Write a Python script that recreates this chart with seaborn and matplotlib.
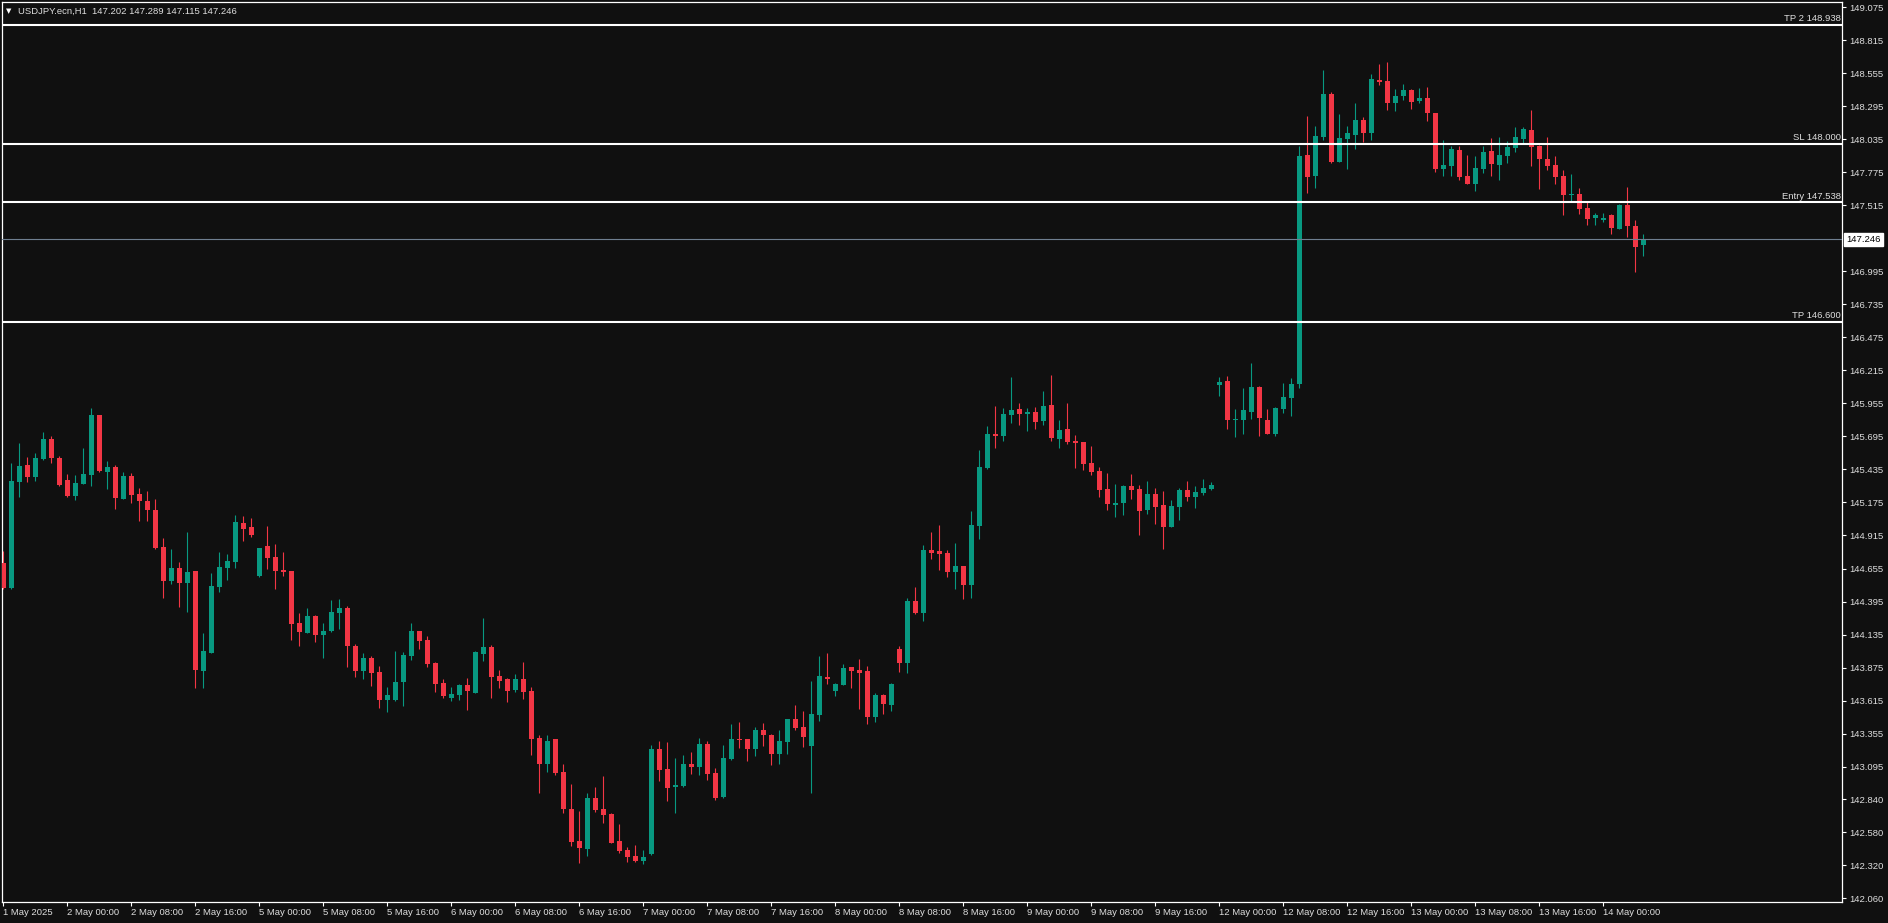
import numpy as np
import pandas as pd
import matplotlib
matplotlib.use('Agg')
import matplotlib.pyplot as plt
import matplotlib.transforms as mtransforms
import seaborn as sns

# chart data (H1 bars)
symbol = 'USDJPY.ecn,H1'

opens = [144.699, 144.504, 145.339, 145.470, 145.376, 145.517, 145.675, 145.525, 145.352, 145.226,
         145.321, 145.391, 145.864, 145.415, 145.454, 145.202, 145.384, 145.242, 145.187, 145.116,
         144.825, 144.557, 144.659, 144.541, 144.636, 143.848, 143.990, 144.510, 144.659, 144.706,
         145.013, 144.982, 144.596, 144.832, 144.746, 144.643, 144.635, 144.226, 144.147, 144.281,
         144.132, 144.163, 144.305, 144.344, 144.045, 143.848, 143.950, 143.840, 143.620, 143.620,
         143.761, 143.966, 144.163, 144.092, 143.911, 143.754, 143.635, 143.659, 143.738, 143.675,
         143.982, 144.037, 143.809, 143.785, 143.698, 143.785, 143.691, 143.320, 143.116, 143.313,
         143.053, 142.761, 142.509, 142.446, 142.848, 142.761, 142.722, 142.509, 142.439, 142.391,
         142.352, 142.407, 143.234, 143.076, 142.935, 142.943, 143.116, 143.092, 143.274, 143.045,
         142.856, 143.156, 143.313, 143.313, 143.234, 143.384, 143.345, 143.195, 143.289, 143.471,
         143.408, 143.258, 143.502, 143.801, 143.691, 143.738, 143.880, 143.856, 143.849, 143.486,
         143.660, 143.581, 144.022, 143.912, 144.400, 144.305, 144.801, 144.793, 144.778, 144.628,
         144.675, 144.526, 144.990, 145.447, 145.715, 145.699, 145.864, 145.911, 145.872, 145.888,
         145.817, 145.943, 145.675, 145.754, 145.659, 145.652, 145.486, 145.423, 145.282, 145.156,
         145.171, 145.305, 145.282, 145.116, 145.242, 145.156, 144.982, 145.140, 145.274, 145.219,
         145.250, 145.282, 146.100, 146.132, 145.825, 145.825, 145.888, 146.085, 145.825, 145.715,
         145.911, 145.998, 146.108, 147.911, 147.746, 148.053, 148.392, 147.856, 148.037, 148.069,
         148.187, 148.085, 148.502, 148.494, 148.321, 148.376, 148.423, 148.337, 148.360, 148.242,
         147.801, 147.825, 147.951, 147.746, 147.683, 147.801, 147.943, 147.833, 147.904, 147.967,
         148.037, 148.108, 147.982, 147.880, 147.833, 147.746, 147.597, 147.604, 147.494, 147.415,
         147.400, 147.439, 147.329, 147.518, 147.352, 147.202]

highs = [144.793, 145.486, 145.643, 145.533, 145.565, 145.730, 145.699, 145.541, 145.399, 145.391,
         145.604, 145.919, 145.864, 145.502, 145.470, 145.415, 145.407, 145.289, 145.265, 145.202,
         144.895, 144.809, 144.706, 144.943, 144.636, 144.147, 144.620, 144.785, 144.769, 145.077,
         145.069, 145.053, 144.820, 144.990, 144.848, 144.785, 144.637, 144.305, 144.344, 144.289,
         144.226, 144.407, 144.415, 144.360, 144.061, 143.990, 143.966, 143.887, 143.722, 144.006,
         143.998, 144.226, 144.166, 144.124, 143.919, 143.785, 143.722, 143.746, 143.793, 144.005,
         144.265, 144.053, 143.856, 143.793, 143.824, 143.919, 143.722, 143.344, 143.344, 143.313,
         143.116, 142.958, 142.746, 142.887, 142.935, 143.021, 142.730, 142.643, 142.462, 142.478,
         142.439, 143.265, 143.297, 143.289, 143.163, 143.187, 143.210, 143.320, 143.297, 143.085,
         143.266, 143.431, 143.447, 143.313, 143.408, 143.439, 143.352, 143.384, 143.471, 143.581,
         143.534, 143.770, 143.967, 143.990, 143.754, 143.904, 143.880, 143.943, 143.888, 143.675,
         143.668, 143.754, 144.045, 144.423, 144.510, 144.841, 144.943, 144.998, 144.801, 144.856,
         144.675, 145.108, 145.589, 145.778, 145.935, 145.919, 146.163, 145.959, 145.919, 145.927,
         146.053, 146.179, 145.825, 145.959, 145.707, 145.652, 145.620, 145.455, 145.407, 145.321,
         145.313, 145.400, 145.313, 145.345, 145.289, 145.266, 145.195, 145.289, 145.345, 145.305,
         145.360, 145.337, 146.163, 146.171, 145.911, 146.077, 146.274, 146.093, 145.911, 145.927,
         146.116, 146.156, 147.982, 148.219, 148.140, 148.581, 148.408, 148.234, 148.140, 148.321,
         148.211, 148.549, 148.628, 148.644, 148.431, 148.471, 148.431, 148.439, 148.447, 148.242,
         148.030, 147.982, 147.982, 147.911, 147.904, 147.982, 148.045, 148.053, 148.022, 148.132,
         148.132, 148.266, 147.990, 148.053, 147.904, 147.793, 147.762, 147.652, 147.549, 147.455,
         147.455, 147.447, 147.526, 147.660, 147.400, 147.289]

lows = [144.494, 144.496, 145.221, 145.339, 145.347, 145.510, 145.489, 145.305, 145.218, 145.197,
        145.321, 145.305, 145.415, 145.281, 145.124, 145.202, 145.171, 145.029, 145.029, 144.809,
        144.423, 144.533, 144.352, 144.313, 143.714, 143.714, 143.990, 144.470, 144.565, 144.659,
        144.872, 144.903, 144.590, 144.651, 144.494, 144.596, 144.092, 144.045, 144.145, 144.076,
        143.950, 144.155, 144.179, 143.880, 143.801, 143.785, 143.730, 143.557, 143.525, 143.612,
        143.572, 143.935, 144.021, 143.880, 143.683, 143.635, 143.612, 143.620, 143.541, 143.675,
        143.927, 143.635, 143.714, 143.604, 143.683, 143.628, 143.187, 142.887, 143.053, 143.029,
        142.730, 142.470, 142.336, 142.391, 142.738, 142.651, 142.494, 142.415, 142.344, 142.344,
        142.328, 142.399, 142.982, 142.824, 142.730, 142.935, 143.037, 143.029, 142.990, 142.833,
        142.849, 143.148, 143.242, 143.140, 143.179, 143.258, 143.108, 143.116, 143.195, 143.384,
        143.250, 142.888, 143.455, 143.746, 143.652, 143.738, 143.715, 143.549, 143.431, 143.447,
        143.510, 143.534, 143.841, 143.833, 144.297, 144.242, 144.730, 144.644, 144.589, 144.494,
        144.415, 144.423, 144.888, 145.439, 145.604, 145.659, 145.801, 145.785, 145.738, 145.754,
        145.785, 145.659, 145.604, 145.636, 145.447, 145.431, 145.392, 145.219, 145.116, 145.061,
        145.077, 145.203, 144.919, 145.085, 145.006, 144.809, 144.982, 145.037, 145.187, 145.132,
        145.234, 145.274, 146.014, 145.754, 145.691, 145.715, 145.833, 145.699, 145.715, 145.699,
        145.880, 145.856, 146.077, 147.612, 147.652, 148.030, 147.848, 147.856, 147.801, 147.959,
        148.014, 148.030, 148.463, 148.266, 148.258, 148.345, 148.274, 148.321, 148.179, 147.778,
        147.746, 147.746, 147.715, 147.683, 147.628, 147.770, 147.746, 147.715, 147.848, 147.935,
        148.006, 147.825, 147.644, 147.793, 147.683, 147.439, 147.549, 147.447, 147.360, 147.360,
        147.384, 147.289, 147.329, 147.266, 146.990, 147.115]

closes = [144.504, 145.344, 145.462, 145.376, 145.525, 145.675, 145.525, 145.313, 145.226, 145.328,
          145.399, 145.864, 145.423, 145.454, 145.210, 145.384, 145.234, 145.187, 145.116, 144.817,
          144.557, 144.659, 144.541, 144.628, 143.856, 144.006, 144.517, 144.667, 144.714, 145.021,
          144.966, 144.919, 144.817, 144.738, 144.635, 144.628, 144.218, 144.155, 144.281, 144.132,
          144.163, 144.313, 144.344, 144.045, 143.848, 143.950, 143.832, 143.620, 143.659, 143.761,
          143.974, 144.163, 144.084, 143.903, 143.746, 143.651, 143.667, 143.738, 143.691, 143.998,
          144.037, 143.801, 143.769, 143.691, 143.785, 143.683, 143.313, 143.116, 143.297, 143.045,
          142.761, 142.502, 142.454, 142.848, 142.753, 142.714, 142.494, 142.431, 142.383, 142.352,
          142.383, 143.234, 143.068, 142.927, 142.950, 143.116, 143.092, 143.273, 143.038, 142.849,
          143.164, 143.313, 143.305, 143.234, 143.384, 143.345, 143.195, 143.297, 143.471, 143.400,
          143.329, 143.510, 143.809, 143.786, 143.746, 143.872, 143.849, 143.833, 143.486, 143.660,
          143.589, 143.746, 143.912, 144.400, 144.305, 144.801, 144.778, 144.770, 144.628, 144.675,
          144.526, 144.998, 145.455, 145.715, 145.699, 145.872, 145.904, 145.872, 145.888, 145.809,
          145.935, 145.683, 145.746, 145.652, 145.644, 145.478, 145.415, 145.274, 145.163, 145.171,
          145.305, 145.274, 145.108, 145.242, 145.140, 144.982, 145.148, 145.274, 145.219, 145.258,
          145.289, 145.313, 146.124, 145.825, 145.833, 145.904, 146.085, 145.841, 145.715, 145.919,
          146.006, 146.108, 147.904, 147.738, 148.061, 148.392, 147.856, 148.045, 148.085, 148.187,
          148.085, 148.510, 148.486, 148.321, 148.376, 148.423, 148.329, 148.360, 148.242, 147.801,
          147.833, 147.959, 147.738, 147.683, 147.809, 147.935, 147.841, 147.911, 147.974, 148.053,
          148.116, 147.974, 147.880, 147.825, 147.738, 147.597, 147.604, 147.486, 147.408, 147.439,
          147.415, 147.337, 147.518, 147.352, 147.187, 147.246]

# time labels shown every 8 bars
time_labels = ['1 May 2025', '2 May 00:00', '2 May 08:00', '2 May 16:00', '5 May 00:00',
               '5 May 08:00', '5 May 16:00', '6 May 00:00', '6 May 08:00', '6 May 16:00',
               '7 May 00:00', '7 May 08:00', '7 May 16:00', '8 May 00:00', '8 May 08:00',
               '8 May 16:00', '9 May 00:00', '9 May 08:00', '9 May 16:00', '12 May 00:00',
               '12 May 08:00', '12 May 16:00', '13 May 00:00', '13 May 08:00', '13 May 16:00',
               '14 May 00:00']

price_ticks = [149.075, 148.815, 148.555, 148.295, 148.035, 147.775, 147.515, 146.995, 146.735,
               146.475, 146.215, 145.955, 145.695, 145.435, 145.175, 144.915, 144.655, 144.395,
               144.135, 143.875, 143.615, 143.355, 143.095, 142.840, 142.580, 142.320, 142.060]

level_names = ['TP 2', 'SL', 'Entry', 'TP']
level_prices = [148.938, 148.000, 147.538, 146.600]

BG = '#101010'
UP = '#089981'
DOWN = '#f23645'
FG = '#dedede'

sns.set_theme(style='dark', rc={'axes.facecolor': BG, 'figure.facecolor': BG,
                                'axes.edgecolor': 'white', 'axes.grid': False})
plt.rcParams['font.family'] = ['Liberation Sans', 'DejaVu Sans']

df = pd.DataFrame({'open': opens, 'high': highs, 'low': lows, 'close': closes})
df['bar'] = np.arange(len(df))
df['color'] = np.where(df['close'] >= df['open'], UP, DOWN)
df['body_low'] = df[['open', 'close']].min(axis=1)
df['body_h'] = np.maximum((df['close'] - df['open']).abs(), 0.006)

fig = plt.figure(figsize=(18.88, 9.23), dpi=100)
ax = fig.add_axes([2 / 1888, 21 / 923, 1840 / 1888, 900 / 923])

# wicks then bodies
ax.vlines(df['bar'], df['low'], df['high'], colors=df['color'], linewidth=0.8, zorder=2)
ax.bar(df['bar'], df['body_h'], bottom=df['body_low'], width=0.62,
       color=df['color'], linewidth=0, zorder=3)

ax.set_xlim(-0.16, 229.84)
ax.set_ylim(142.029, 149.116)

# trade levels
trans = mtransforms.blended_transform_factory(ax.transAxes, ax.transData)
for name, price in zip(level_names, level_prices):
    ax.axhline(price, color='white', linewidth=1.5, zorder=4)
    ax.text(0.9993, price + 0.012, f'{name} {price:.3f}', transform=trans,
            ha='right', va='bottom', fontsize=6.8, color=FG, zorder=5)

# current price line + box
last = df.iloc[-1]
ax.axhline(last['close'], color='#6f7f90', linewidth=0.8, zorder=4)
ax.text(1.0025, last['close'], f"{last['close']:.3f}", transform=trans, ha='left', va='center',
        fontsize=6.8, color='black', clip_on=False,
        bbox=dict(boxstyle='square,pad=0.25', facecolor='white', edgecolor='white'))

# axes styling
for sp in ax.spines.values():
    sp.set_color('white')
    sp.set_linewidth(0.9)

ax.set_xticks(np.arange(len(time_labels)) * 8)
ax.set_xticklabels(time_labels, ha='left')
ax.yaxis.tick_right()
ax.set_yticks(price_ticks)
ax.set_yticklabels([f'{t:.3f}' for t in price_ticks])
ax.tick_params(axis='both', which='major', direction='out', length=3, width=0.8,
               color='white', labelcolor=FG, labelsize=6.8)
ax.tick_params(axis='x', pad=1.5, bottom=True)
ax.tick_params(axis='y', pad=2, right=True, left=False)
ax.set_xlabel('')
ax.set_ylabel('')

# header
fig.text(6 / 1888, 1 - 11 / 923, '\u25bc', fontsize=5, color='white', va='center',
         family=['DejaVu Sans'])
fig.text(18 / 1888, 1 - 11 / 923,
         f"{symbol}  {last['open']:.3f} {last['high']:.3f} {last['low']:.3f} {last['close']:.3f}",
         fontsize=6.8, color=FG, va='center')

fig.savefig('out.png', dpi=100, facecolor=BG)
